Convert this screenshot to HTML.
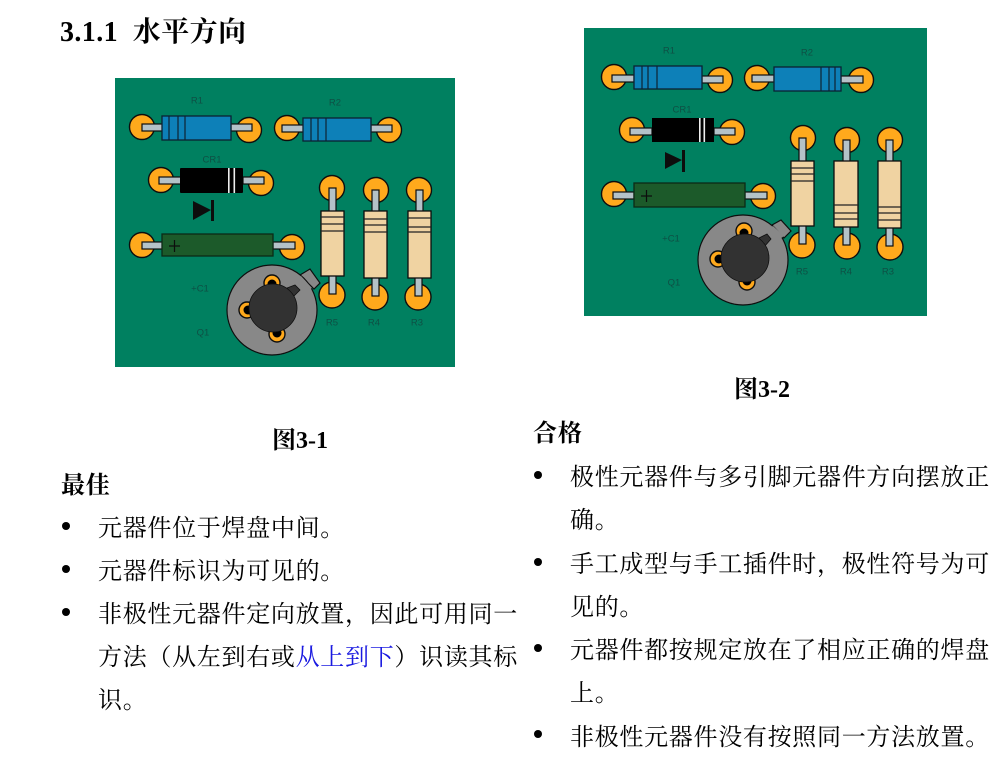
<!DOCTYPE html>
<html lang="zh">
<head>
<meta charset="utf-8">
<title>3.1.1 水平方向</title>
<style>
html,body{margin:0;padding:0;background:#fff;}
body{position:relative;width:1001px;height:771px;overflow:hidden;font-family:"Liberation Serif","Noto Serif CJK SC",serif;color:#000;}
.t{position:absolute;white-space:nowrap;font-size:24px;line-height:42px;height:42px;letter-spacing:.7px;font-family:"Liberation Serif","Noto Serif CJK SC",serif;}
.b{font-weight:bold;letter-spacing:0;color:#000;}
.d{position:absolute;width:8px;height:8px;border-radius:50%;background:#000;}
.blue{color:#1a1ae0;}
svg.p{position:absolute;display:block;}
.pad{fill:#ffa91f;stroke:#111;stroke-width:1.4;}
.lead{fill:#b4c2c8;stroke:#111;stroke-width:1.2;}
.rb{fill:#1080b8;stroke:#0c2230;stroke-width:1.3;}
.ln{stroke:#0c2230;stroke-width:1.2;}
.tan{fill:#f0d3a2;stroke:#111;stroke-width:1.3;}
.tl{stroke:#222;stroke-width:1.3;}
.gr{fill:#1c5a2a;stroke:#0c2a14;stroke-width:1.3;}
.lb{font:9.5px "Liberation Sans",sans-serif;fill:#0f5044;text-anchor:middle;}
</style>
</head>
<body>

<svg class="p" style="left:115px;top:78px" width="340" height="289" viewBox="0 0 340 289">
<defs><filter id="s1" x="-2%" y="-2%" width="104%" height="104%"><feGaussianBlur stdDeviation="0.3"/></filter></defs>
<rect width="340" height="289" fill="#008060"/>
<g filter="url(#s1)">
<text class="lb" x="82" y="25.500">R1</text><text class="lb" x="220" y="27.500">R2</text><text class="lb" x="97" y="84.500">CR1</text>
<text class="lb" x="85" y="213.500">+C1</text><text class="lb" x="88" y="257.500">Q1</text>
<text class="lb" x="217" y="247.500">R5</text><text class="lb" x="259" y="247.500">R4</text><text class="lb" x="302" y="247.500">R3</text>
<circle class="pad" cx="27" cy="49" r="12.5"/><circle class="pad" cx="134" cy="52" r="12.5"/>
<rect class="lead" x="27" y="46" width="21" height="7"/><rect class="lead" x="116" y="46" width="21" height="7"/>
<rect class="rb" x="47" y="38" width="69" height="24"/>
<path class="ln" d="M54 38V62M63 38V62M70 38V62"/>
<circle class="pad" cx="172" cy="50" r="12.5"/><circle class="pad" cx="274" cy="52" r="12.5"/>
<rect class="lead" x="167" y="47" width="22" height="7"/><rect class="lead" x="256" y="47" width="21" height="7"/>
<rect class="rb" x="188" y="40" width="68" height="23"/>
<path class="ln" d="M196 40V63M203 40V63M211 40V63"/>
<circle class="pad" cx="46" cy="102" r="12.5"/><circle class="pad" cx="146" cy="105" r="12.5"/>
<rect class="lead" x="44" y="99" width="22" height="7"/><rect class="lead" x="128" y="99" width="21" height="7"/>
<rect x="65" y="90" width="63" height="25" rx="1" fill="#000"/>
<rect x="113" y="90" width="1.6" height="25" fill="#eee"/><rect x="118.5" y="90" width="1.6" height="25" fill="#eee"/>
<path d="M78 123L96 132L78 142Z" fill="#111"/><rect x="96" y="122" width="3" height="21" fill="#111"/>
<circle class="pad" cx="27" cy="167" r="12.5"/><circle class="pad" cx="177" cy="169" r="12.5"/>
<rect class="lead" x="27" y="164" width="21" height="7"/><rect class="lead" x="158" y="164" width="22" height="7"/>
<rect class="gr" x="47" y="156" width="111" height="22"/>
<path d="M54 168H65M59.5 162V174" stroke="#111" stroke-width="1.2"/>
<circle class="pad" cx="217" cy="110" r="12.5"/><circle class="pad" cx="217" cy="217" r="13"/>
<rect class="lead" x="214" y="110" width="7" height="24"/><rect class="lead" x="214" y="197" width="7" height="19"/>
<rect class="tan" x="206" y="133" width="23" height="65"/>
<path class="tl" d="M206 139H229M206 146H229M206 153H229"/>
<circle class="pad" cx="261" cy="112" r="12.5"/><circle class="pad" cx="260" cy="219" r="13"/>
<rect class="lead" x="257" y="112" width="7" height="22"/><rect class="lead" x="257" y="199" width="7" height="19"/>
<rect class="tan" x="249" y="133" width="23" height="67"/>
<path class="tl" d="M249 141H272M249 147H272M249 154H272"/>
<circle class="pad" cx="304" cy="112" r="12.5"/><circle class="pad" cx="303" cy="219" r="13"/>
<rect class="lead" x="301" y="112" width="7" height="22"/><rect class="lead" x="300" y="199" width="7" height="19"/>
<rect class="tan" x="293" y="133" width="23" height="67"/>
<path class="tl" d="M293 140H316M293 149H316M293 154H316"/>
<path d="M185 197L195 191L205 205L199 211Z" fill="#888" stroke="#111" stroke-width="1.2"/>
<circle cx="157" cy="232" r="45" fill="#888" stroke="#111" stroke-width="1.2"/>
<path d="M186 198L197 210L190 214L178 203Z" fill="#888"/>
<circle class="pad" cx="157" cy="205" r="8"/><circle cx="157" cy="206" r="4.500" fill="#000"/>
<circle class="pad" cx="132" cy="232" r="8"/><circle cx="133" cy="232" r="4.500" fill="#000"/>
<circle class="pad" cx="162" cy="256" r="8"/><circle cx="162" cy="255" r="4.500" fill="#000"/>
<path d="M172 210L180 207L185 212L178 219Z" fill="#333" stroke="#111" stroke-width=".8"/>
<circle cx="158" cy="230" r="24" fill="#333" stroke="#111" stroke-width=".8"/>
</g>
</svg>

<svg class="p" style="left:584px;top:28px" width="343" height="288" viewBox="0 0 343 288">
<defs><filter id="s2" x="-2%" y="-2%" width="104%" height="104%"><feGaussianBlur stdDeviation="0.3"/></filter></defs>
<rect width="343" height="288" fill="#008060"/>
<g filter="url(#s2)">
<text class="lb" x="85" y="25.500">R1</text><text class="lb" x="223" y="27.500">R2</text><text class="lb" x="98" y="84.500">CR1</text>
<text class="lb" x="87" y="213.500">+C1</text><text class="lb" x="90" y="257.500">Q1</text>
<text class="lb" x="218" y="246.500">R5</text><text class="lb" x="262" y="246.500">R4</text><text class="lb" x="304" y="246.500">R3</text>
<circle class="pad" cx="30" cy="49" r="12.5"/><circle class="pad" cx="136" cy="52" r="12.5"/>
<rect class="lead" x="28" y="47" width="22" height="7"/><rect class="lead" x="118" y="48" width="21" height="7"/>
<rect class="rb" x="50" y="38" width="68" height="23"/>
<path class="ln" d="M58 38V61M64 38V61M73 38V61"/>
<circle class="pad" cx="173" cy="50" r="12.5"/><circle class="pad" cx="277" cy="52" r="12.5"/>
<rect class="lead" x="168" y="47" width="22" height="7"/><rect class="lead" x="257" y="48" width="22" height="7"/>
<rect class="rb" x="190" y="39" width="67" height="24"/>
<path class="ln" d="M237 39V63M245 39V63M251 39V63"/>
<circle class="pad" cx="48" cy="102" r="12.5"/><circle class="pad" cx="148" cy="104" r="12.5"/>
<rect class="lead" x="46" y="100" width="22" height="7"/><rect class="lead" x="130" y="100" width="21" height="7"/>
<rect x="68" y="90" width="62" height="24" fill="#000"/>
<rect x="115" y="90" width="1.6" height="24" fill="#eee"/><rect x="119.5" y="90" width="1.6" height="24" fill="#eee"/>
<path d="M81 124L98 132L81 141Z" fill="#111"/><rect x="98" y="122" width="3" height="22" fill="#111"/>
<circle class="pad" cx="30" cy="166" r="12.5"/><circle class="pad" cx="179" cy="168" r="12.5"/>
<rect class="lead" x="29" y="164" width="21" height="7"/><rect class="lead" x="161" y="164" width="22" height="7"/>
<rect class="gr" x="50" y="155" width="111" height="24"/>
<path d="M57 168H68M62.500 162V174" stroke="#111" stroke-width="1.2"/>
<circle class="pad" cx="219" cy="110" r="12.5"/><circle class="pad" cx="218" cy="217" r="13"/>
<rect class="lead" x="215" y="110" width="7" height="24"/><rect class="lead" x="215" y="197" width="7" height="19"/>
<rect class="tan" x="207" y="133" width="23" height="65"/>
<path class="tl" d="M207 140H230M207 146H230M207 153H230"/>
<circle class="pad" cx="263" cy="112" r="12.5"/><circle class="pad" cx="263" cy="218" r="13"/>
<rect class="lead" x="259" y="112" width="7" height="22"/><rect class="lead" x="259" y="198" width="7" height="19"/>
<rect class="tan" x="250" y="133" width="24" height="66"/>
<path class="tl" d="M250 177H274M250 185H274M250 191H274"/>
<circle class="pad" cx="306" cy="112" r="12.5"/><circle class="pad" cx="306" cy="219" r="13"/>
<rect class="lead" x="302" y="112" width="7" height="22"/><rect class="lead" x="302" y="199" width="7" height="19"/>
<rect class="tan" x="294" y="133" width="23" height="67"/>
<path class="tl" d="M294 179H317M294 185H317M294 192H317"/>
<path d="M188 197L197 192L207 203L200 210Z" fill="#888" stroke="#111" stroke-width="1.2"/>
<circle cx="159" cy="232" r="45" fill="#888" stroke="#111" stroke-width="1.2"/>
<path d="M189 198L200 208L193 213L180 203Z" fill="#888"/>
<circle class="pad" cx="160" cy="203" r="8"/><circle cx="160" cy="205" r="4.500" fill="#000"/>
<circle class="pad" cx="134" cy="231" r="8"/><circle cx="135" cy="231" r="4.500" fill="#000"/>
<circle class="pad" cx="163" cy="254" r="8"/><circle cx="163" cy="253" r="4.500" fill="#000"/>
<path d="M175 210L183 206L187 211L180 219Z" fill="#333" stroke="#111" stroke-width=".8"/>
<circle cx="161" cy="230" r="24" fill="#333" stroke="#111" stroke-width=".8"/>
</g>
</svg>

<div class="t b" style="left:60px;top:12px;font-size:28px;letter-spacing:.4px">3.1.1&nbsp;&nbsp;水平方向</div>

<div class="t b" style="left:272px;top:420px">图3-1</div>
<div class="t b" style="left:61px;top:465px;letter-spacing:.7px">最佳</div>
<div class="d" style="left:62px;top:522px"></div>
<div class="t" style="left:98px;top:508px">元器件位于焊盘中间。</div>
<div class="d" style="left:62px;top:565px"></div>
<div class="t" style="left:98px;top:551px">元器件标识为可见的。</div>
<div class="d" style="left:62px;top:608px"></div>
<div class="t" style="left:98px;top:594px">非极性元器件定向放置，因此可用同一</div>
<div class="t" style="left:98px;top:637px">方法（从左到右或<span class="blue">从上到下</span>）识读其标</div>
<div class="t" style="left:98px;top:680px">识。</div>

<div class="t b" style="left:734px;top:369px">图3-2</div>
<div class="t b" style="left:533px;top:413px;letter-spacing:.7px">合格</div>
<div class="d" style="left:534px;top:471px"></div>
<div class="t" style="left:570px;top:457px">极性元器件与多引脚元器件方向摆放正</div>
<div class="t" style="left:570px;top:500px">确。</div>
<div class="d" style="left:534px;top:558px"></div>
<div class="t" style="left:570px;top:544px">手工成型与手工插件时，极性符号为可</div>
<div class="t" style="left:570px;top:587px">见的。</div>
<div class="d" style="left:534px;top:644px"></div>
<div class="t" style="left:570px;top:630px">元器件都按规定放在了相应正确的焊盘</div>
<div class="t" style="left:570px;top:673px">上。</div>
<div class="d" style="left:534px;top:730px"></div>
<div class="t" style="left:570px;top:717px">非极性元器件没有按照同一方法放置。</div>

</body>
</html>
